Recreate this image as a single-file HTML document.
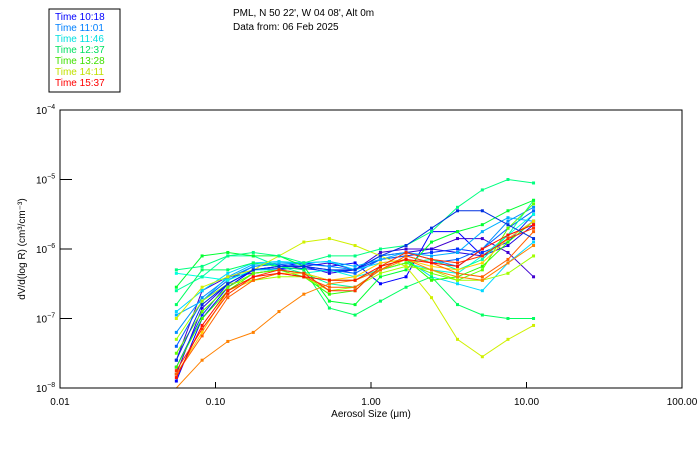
<!DOCTYPE html>
<html><head><meta charset="utf-8"><style>
body{margin:0;background:#fff;width:700px;height:450px;overflow:hidden}
svg{display:block;font-family:"Liberation Sans",sans-serif}
</style></head><body>
<svg id="chart" width="700" height="450">
<rect x="49" y="9" width="71" height="83" fill="#fff" stroke="#000" stroke-width="1"/>
<g font-size="10">
<text x="55" y="20" fill="#0000ff">Time 10:18</text>
<text x="55" y="31" fill="#0080ff">Time 11:01</text>
<text x="55" y="42" fill="#00e0e0">Time 11:46</text>
<text x="55" y="53" fill="#00e060">Time 12:37</text>
<text x="55" y="64" fill="#40e000">Time 13:28</text>
<text x="55" y="75" fill="#c0e000">Time 14:11</text>
<text x="55" y="86" fill="#ff0000">Time 15:37</text>
</g>
<text x="233" y="16" font-size="10">PML, N 50 22', W 04 08', Alt 0m</text>
<text x="233" y="30" font-size="10">Data from: 06 Feb 2025</text>
<text transform="translate(25,249) rotate(-90)" text-anchor="middle" font-size="10">dV/d(log R) (cm³/cm⁻³)</text>
<text x="371" y="417" text-anchor="middle" font-size="10">Aerosol Size (μm)</text>
<g id="series"></g>
<g id="axes"></g>
</svg>
<script>
const sizes=[0.056,0.082,0.12,0.175,0.256,0.37,0.54,0.79,1.15,1.68,2.45,3.6,5.2,7.6,11.1];
const xTicks=[0.01,0.1,1,10,100];
const xTickLabels=["0.01","0.10","1.00","10.00","100.00"];
const yTickExps=[-4,-5,-6,-7,-8];
const seriesColors=["#4000d0","#2000e0","#0000ff","#0030ff","#0060ff","#0090ff","#00b0ff","#00d8ff","#00ffe0","#00ffa0","#00ff60","#00ff30","#30ff00","#60ff00","#a0ff00","#d0f000","#ffd000","#ff8000","#ff6000","#ff3000","#ff1000","#00ff80","#0030e0"];
const s1=[-7.6,-6.6,-6.4,-6.35,-6.3,-6.25,-6.2,-6.3,-6.05,-6.0,-6.0,-5.85,-5.85,-6.05,-6.4];
const s2=[-7.8,-6.85,-6.5,-6.3,-6.25,-6.25,-6.35,-6.3,-6.1,-6.05,-6.0,-6.05,-6.1,-5.95,-5.65];
const s3=[-7.9,-7.0,-6.55,-6.3,-6.25,-6.2,-6.25,-6.2,-6.5,-6.4,-5.75,-5.75,-6.1,-5.85,-5.6];
const s4=[-7.7,-6.95,-6.5,-6.3,-6.28,-6.28,-6.32,-6.3,-6.15,-6.1,-6.05,-6.0,-6.05,-5.9,-5.5];
const s5=[-7.4,-6.75,-6.45,-6.25,-6.22,-6.25,-6.3,-6.35,-6.15,-6.1,-6.2,-6.15,-6.0,-5.7,-5.45];
const s6=[-7.2,-6.7,-6.42,-6.25,-6.2,-6.22,-6.25,-6.3,-6.1,-6.05,-6.15,-6.25,-6.0,-5.6,-5.4];
const s7=[-6.95,-6.75,-6.4,-6.22,-6.2,-6.2,-6.18,-6.25,-6.15,-6.05,-6.1,-6.05,-5.75,-5.55,-5.6];
const s8=[-6.9,-6.6,-6.35,-6.2,-6.18,-6.2,-6.18,-6.3,-6.2,-6.15,-6.4,-6.5,-6.6,-6.2,-5.9];
const s9=[-6.35,-6.4,-6.45,-6.3,-6.3,-6.35,-6.3,-6.4,-6.3,-6.2,-6.3,-6.35,-6.1,-5.8,-5.5];
const s10=[-6.6,-6.4,-6.1,-6.1,-6.25,-6.35,-6.5,-6.55,-6.3,-6.2,-6.15,-6.3,-6.15,-5.8,-5.3];
const s11=[-6.8,-6.3,-6.3,-6.2,-6.25,-6.3,-6.85,-6.95,-6.75,-6.55,-6.4,-6.8,-6.95,-7.0,-7.0];
const s12=[-6.55,-6.1,-6.05,-6.1,-6.1,-6.25,-6.75,-6.8,-6.4,-6.3,-5.9,-5.75,-5.65,-5.45,-5.3];
const s13=[-7.7,-7.0,-6.6,-6.35,-6.3,-6.4,-6.65,-6.6,-6.25,-6.15,-6.45,-6.4,-6.25,-5.9,-5.6];
const s14=[-7.5,-6.9,-6.55,-6.35,-6.3,-6.35,-6.45,-6.45,-6.3,-6.2,-6.35,-6.45,-6.3,-5.7,-5.35];
const s15=[-7.3,-6.75,-6.5,-6.45,-6.4,-6.4,-6.6,-6.55,-6.35,-6.25,-6.3,-6.45,-6.45,-6.35,-6.1];
const s16=[-7.0,-6.55,-6.4,-6.3,-6.1,-5.9,-5.85,-5.95,-6.1,-6.25,-6.7,-7.3,-7.55,-7.3,-7.1];
const s17=[-7.8,-7.2,-6.6,-6.45,-6.35,-6.35,-6.45,-6.4,-6.2,-6.15,-6.25,-6.3,-6.2,-5.85,-5.6];
const s18=[-8.3,-7.6,-7.33,-7.2,-6.9,-6.65,-6.5,-6.45,-6.3,-6.15,-6.3,-6.4,-6.45,-6.2,-5.95];
const s19=[-7.8,-7.25,-6.7,-6.45,-6.35,-6.4,-6.55,-6.55,-6.3,-6.1,-6.2,-6.35,-6.4,-6.15,-5.75];
const s20=[-7.75,-7.15,-6.65,-6.4,-6.3,-6.35,-6.6,-6.6,-6.25,-6.05,-6.15,-6.2,-6.1,-5.85,-5.7];
const s21=[-7.85,-7.1,-6.6,-6.4,-6.35,-6.4,-6.45,-6.45,-6.25,-6.15,-6.2,-6.25,-6.0,-5.8,-5.65];
const s22=[-6.3,-6.25,-6.1,-6.05,-6.1,-6.2,-6.1,-6.1,-6.0,-5.95,-5.75,-5.4,-5.15,-5.0,-5.05];
const s23=[-7.6,-6.8,-6.5,-6.3,-6.25,-6.25,-6.3,-6.3,-6.1,-5.95,-5.7,-5.45,-5.45,-5.65,-5.85];
const allSeries=[s1,s2,s3,s4,s5,s6,s7,s8,s9,s10,s11,s12,s13,s14,s15,s16,s17,s18,s19,s20,s21,s22,s23];

const L=60,R=682,T=110,B=388;
const xScale=v=>L+(Math.log10(v)+2)/4*(R-L);
const yScale=e=>T+(-4-e)/4*(B-T);
const NS="http://www.w3.org/2000/svg";
function mk(tag,attrs,parent){const el=document.createElementNS(NS,tag);for(const k in attrs)el.setAttribute(k,attrs[k]);parent.appendChild(el);return el;}
const sg=document.getElementById('series');
allSeries.forEach((s,i)=>{
  const c=seriesColors[i];
  const pts=s.map((e,j)=>xScale(sizes[j]).toFixed(1)+','+Math.min(B,yScale(e)).toFixed(1)).join(' ');
  const pl=mk('polyline',{points:pts,fill:'none',stroke:c,'stroke-width':1},sg);
  
  
  s.forEach((e,j)=>{const y=yScale(e);if(y>B)return;
    const r=mk('rect',{x:xScale(sizes[j])-1.5,y:y-1.5,width:3,height:3,fill:c},sg);
    
    
  });
});
const ag=document.getElementById('axes');
const box=mk('rect',{x:L,y:T,width:R-L,height:B-T,fill:'none',stroke:'#000','stroke-width':1},ag);


xTicks.forEach((v,i)=>{const x=xScale(v);
  const t=mk('line',{x1:x,y1:B,x2:x,y2:B-6,stroke:'#000'},ag);
  
  
  const tx=mk('text',{x:x,y:B+17,'text-anchor':'middle','font-size':10},ag);
  tx.textContent=xTickLabels[i];
  
  
});
yTickExps.forEach(e=>{const y=yScale(e);
  const t=mk('line',{x1:L,y1:y,x2:L+12,y2:y,stroke:'#000'},ag);
  
  
  const tx=mk('text',{x:36,y:y+4,'font-size':10},ag);
  tx.textContent='10';
  const sp=mk('tspan',{dy:-5,'font-size':7},tx);
  sp.textContent=String(e).replace('-','−');
  
  
});
</script>
</body></html>
